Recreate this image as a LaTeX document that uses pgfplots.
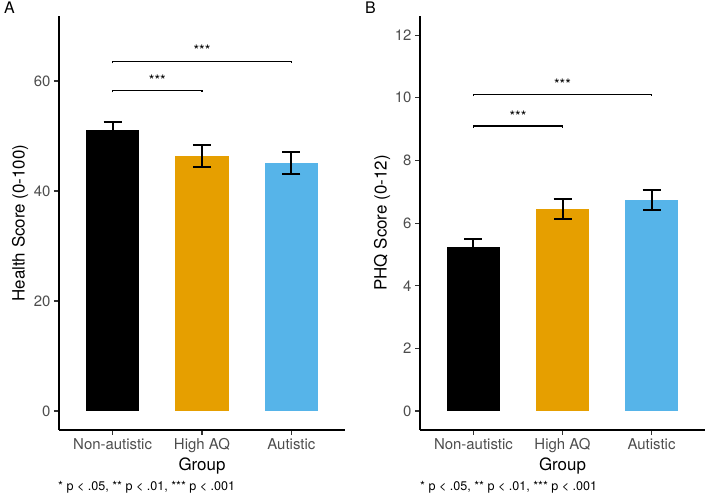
\documentclass[border=0pt]{standalone}
\usepackage{fontspec}
\setmainfont{TeX Gyre Heros}
\usepackage{pgfplots}
\pgfplotsset{compat=1.18}

\definecolor{okorange}{HTML}{E69F00}
\definecolor{okblue}{HTML}{56B4E9}
\definecolor{ticktext}{HTML}{4D4D4D}
\definecolor{tickline}{HTML}{333333}

\tikzset{stars/.style={anchor=base, font=\fontsize{14.5}{16}\selectfont}}

\pgfplotsset{
  panel/.style={
    scale only axis,
    width=286bp, height=414bp,
    axis x line=bottom, axis y line=left,
    axis line style={-, line width=1.2bp, black},
    xmin=0.4, xmax=3.6,
    xtick={1,2,3},
    xticklabels={Non-autistic, High AQ, Autistic},
    tick align=outside,
    major tick length=5bp,
    every tick/.style={tickline, line width=1.1bp},
    tick label style={font=\fontsize{15}{18}\selectfont, text=ticktext},
    /pgf/number format/assume math mode=true,
    every axis x label/.style={at={(axis description cs:0.5,0)}, anchor=base, yshift=-40bp,
      font=\fontsize{17}{20}\selectfont},
    every axis y label/.style={at={(axis description cs:-0.136,0.5)}, rotate=90, anchor=center,
      font=\fontsize{17}{20}\selectfont},
    clip=false,
  },
  groupbar/.style={
    ybar, bar width=0.6, bar shift=0pt, draw=none, fill=#1,
    error bars/.cd, y dir=both, y explicit,
    error bar style={black, line width=2bp},
    error mark options={rotate=90, black, line width=2bp, mark size=9bp},
  },
  bracket/.style={black, line width=1.4bp, no markers},
}

\begin{document}
\begin{tikzpicture}
\path[use as bounding box] (0,0) rectangle (707bp,494bp);

% Panel A: self-rated health
\begin{axis}[panel, at={(59bp,64bp)}, anchor=south west,
  ymin=-3.45, ymax=71.82, ytick={0,20,40,60},
  xlabel={Group}, ylabel={Health Score (0-100)}]
  \addplot[groupbar=black]    coordinates {(1,51.1) +- (0,1.5)};
  \addplot[groupbar=okorange] coordinates {(2,46.4) +- (0,2.0)};
  \addplot[groupbar=okblue]   coordinates {(3,45.1) +- (0,2.05)};
  \addplot[bracket] coordinates {(1,57.95) (1,58.24) (2,58.24) (2,57.95)};
  \addplot[bracket] coordinates {(1,63.2) (1,63.5) (3,63.5) (3,63.2)};
  \node[stars] at (axis cs:1.5,59.2) {***};
  \node[stars] at (axis cs:2,64.7) {***};
\end{axis}

% Panel B: PHQ depression/anxiety
\begin{axis}[panel, width=285bp, at={(420bp,64bp)}, anchor=south west,
  ymin=-0.606, ymax=12.61, ytick={0,2,4,6,8,10,12},
  xlabel={Group}, ylabel={PHQ Score (0-12)},
  every axis y label/.style={at={(axis description cs:-0.133,0.5)}, rotate=90, anchor=center,
    font=\fontsize{17}{20}\selectfont}]
  \addplot[groupbar=black]    coordinates {(1,5.22) +- (0,0.26)};
  \addplot[groupbar=okorange] coordinates {(2,6.45) +- (0,0.33)};
  \addplot[groupbar=okblue]   coordinates {(3,6.74) +- (0,0.33)};
  \addplot[bracket] coordinates {(1,9.05) (1,9.10) (2,9.10) (2,9.05)};
  \addplot[bracket] coordinates {(1,10.05) (1,10.10) (3,10.10) (3,10.05)};
  \node[stars] at (axis cs:1.5,9.25) {***};
  \node[stars] at (axis cs:2,10.26) {***};
\end{axis}

\node[anchor=base west, font=\fontsize{16}{19}\selectfont] at (0.5bp,480.5bp) {A};
\node[anchor=base west, font=\fontsize{16}{19}\selectfont] at (361.5bp,480.5bp) {B};
\node[anchor=base west, inner sep=0pt, font=\fontsize{12.6}{14}\selectfont] at (58bp,3.5bp) {* p < .05, ** p < .01, *** p < .001};
\node[anchor=base west, inner sep=0pt, font=\fontsize{12.6}{14}\selectfont] at (420bp,3.5bp) {* p < .05, ** p < .01, *** p < .001};
\end{tikzpicture}
\end{document}
